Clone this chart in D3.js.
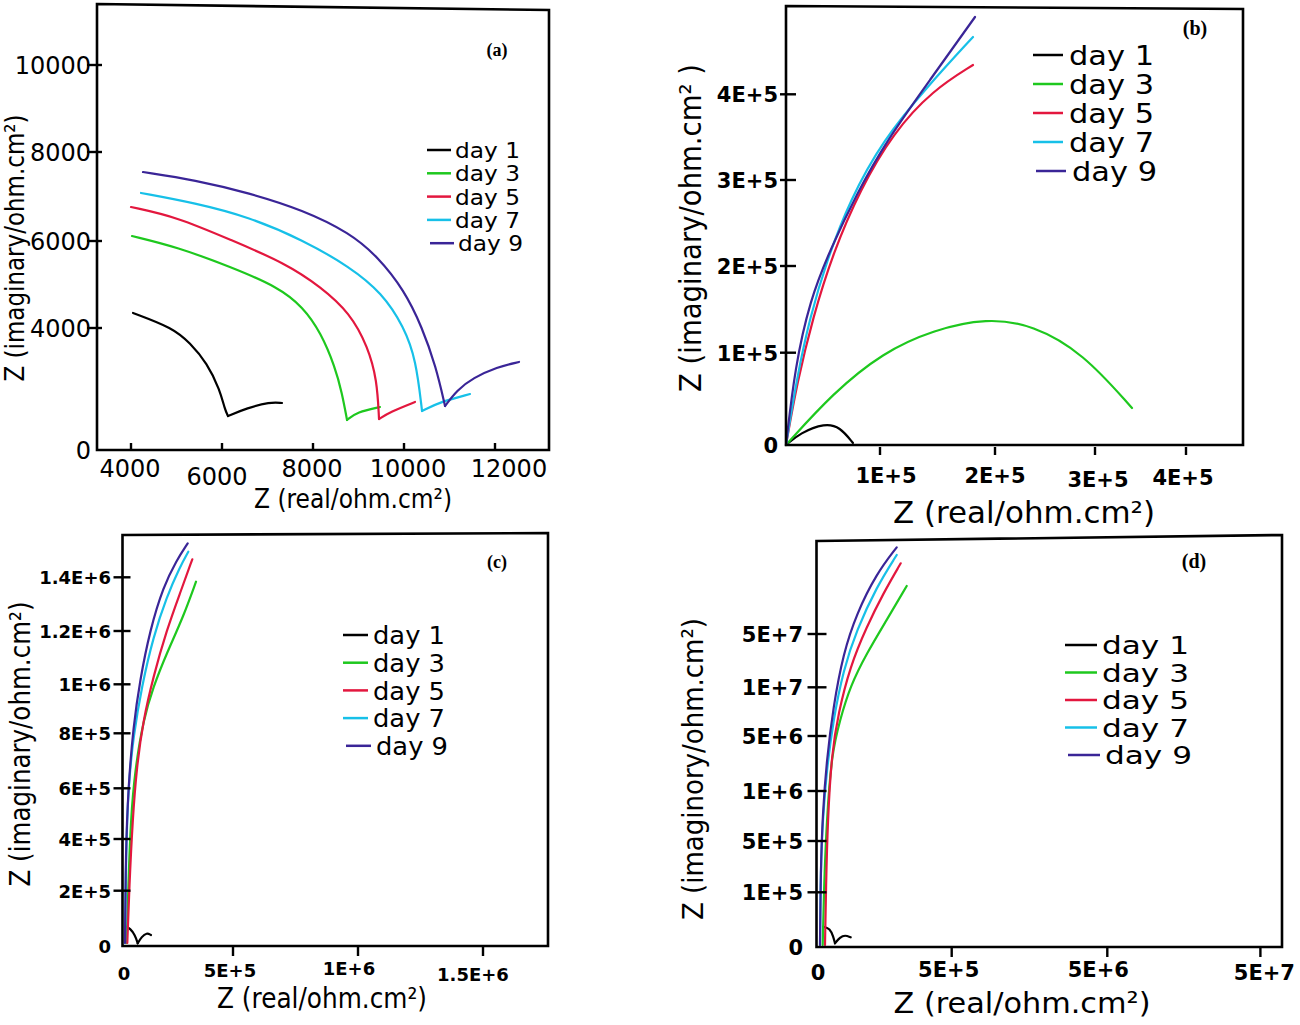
<!DOCTYPE html>
<html>
<head>
<meta charset="utf-8">
<script src="https://cdn.jsdelivr.net/npm/d3@7"></script>
<style>
  html, body { margin: 0; padding: 0; background: #fff; }
  svg { display: block; }
  text { font-family: "DejaVu Sans", sans-serif; fill: #000; }
</style>
</head>
<body>
<script>
// ---------------- DATA ----------------
const days = ["day 1", "day 3", "day 5", "day 7", "day 9"];
const dayColors = ["#000000", "#1ec81e", "#e3173e", "#17c0e8", "#3a2597"];

// Panel (a)
const aXTicks = [4000, 6000, 8000, 10000, 12000];
const aYTicks = [0, 4000, 6000, 8000, 10000];
const aDay1 = [[4044,4345],[4923,4000],[5297,3508],[5670,2853],[5956,1967],[6066,1312],[6132,1115],[6549,1377],[7055,1574],[7319,1541]];
const aDay3 = [[4022,6112],[5011,5862],[6198,5402],[7231,4943],[7780,4483],[8176,3836],[8484,2722],[8638,1869],[8748,984],[8967,1246],[9473,1410]];
const aDay5 = [[4000,6764],[5011,6539],[6198,6022],[7385,5494],[8176,4943],[8813,4345],[9209,3377],[9407,2295],[9451,1016],[9693,1246],[10242,1574]];
const aDay7 = [[4220,7079],[5407,6854],[6594,6539],[7780,6022],[8813,5402],[9517,4805],[10001,4023],[10264,2951],[10396,1279],[10792,1574],[11451,1836]];
const aDay9 = [[4264,7550],[5407,7371],[6594,7079],[7780,6697],[8813,6180],[9429,5632],[10001,4874],[10396,4023],[10704,2722],[10902,1443],[11166,1967],[11517,2361],[12044,2722],[12528,2886]];

// Panel (b)
const bXTicks = [100000, 200000, 300000, 400000];
const bXLabels = ["1E+5", "2E+5", "3E+5", "4E+5"];
const bYTicks = [0, 100000, 200000, 300000, 400000];
const bYLabels = ["0", "1E+5", "2E+5", "3E+5", "4E+5"];
const bDay1 = [[0,0],[14894,13000],[41489,23835],[57447,19502],[71277,2167]];
const bDay3 = [[0,0],[50000,56338],[102609,100300],[146087,126182],[193043,140023],[238000,131949],[288000,99700],[340659,40087]];
const bDay5 = [[0,0],[11702,67172],[28723,141176],[50000,215116],[78723,288372],[111304,354843],[146087,405017],[180870,434189]];
const bDay7 = [[0,0],[11702,73673],[25532,141176],[43617,206977],[68085,276744],[102609,346674],[140870,408518],[180870,466861]];
const bDay9 = [[0,0],[9574,84507],[25532,160784],[46809,218605],[75532,284884],[106087,346674],[143478,416686],[182609,490198]];

// Panel (c)
const cXTicks = [0, 500000, 1000000, 1500000];
const cXLabels = ["0", "5E+5", "1E+6", "1.5E+6"];
const cYTicks = [0, 200000, 400000, 600000, 800000, 1000000, 1200000, 1400000];
const cYLabels = ["0", "2E+5", "4E+5", "6E+5", "8E+5", "1E+6", "1.2E+6", "1.4E+6"];
const cDay1 = [[9174,69801],[27523,64014],[50459,39783],[62844,9766],[81193,33635],[104128,48101],[123853,39783]];
const cDay3 = [[12385,10850],[19725,215474],[30734,474951],[50459,666545],[88532,854286],[134404,990204],[195872,1116323],[272018,1253259],[330275,1383613]];
const cDay5 = [[15138,10850],[24312,215474],[39450,474951],[58257,678545],[88532,854286],[134404,1028518],[195872,1203724],[256881,1340410],[313303,1467039]];
const cDay7 = [[4587,10850],[9174,344681],[19725,605818],[42661,787636],[81193,990204],[134404,1178612],[195872,1327747],[256881,1439479],[294954,1495345]];
const cDay9 = [[4587,10850],[7798,344681],[19725,605818],[42661,826939],[73394,1016135],[119266,1203724],[180275,1364991],[241743,1464432],[292202,1526629]];

// Panel (d)
const dXTicks = [0, 500000, 5000000, 50000000];
const dXLabels = ["0", "5E+5", "5E+6", "5E+7"];
const dYTicks = [0, 100000, 500000, 1000000, 5000000, 10000000, 50000000];
const dYLabels = ["0", "1E+5", "5E+5", "1E+6", "5E+6", "1E+7", "5E+7"];
const dDay1 = [[19822,36765],[44880,33824],[57222,18382],[63580,6250],[82280,17279],[100980,21507],[122298,17279]];
const dDay3 = [[17577,3125],[22440,143665],[32538,710000],[51238,3741818],[82280,6642710],[119680,10450281],[182138,35515947],[256938,60506567],[331738,86022514]];
const dDay5 = [[26180,3125],[29920,143665],[36278,710000],[51238,3741818],[75922,7330595],[119680,25459662],[182138,55478424],[244222,80544090],[309298,103058161]];
const dDay7 = [[7480,3125],[10098,273879],[17577,710000],[32538,2527273],[57222,6642710],[94622,22983114],[144738,53001876],[219538,85497186],[294338,109287054]];
const dDay9 = [[7480,3125],[10098,273879],[17577,777000],[32538,3254545],[57222,8008214],[94622,35515947],[144738,65534709],[219538,95553471],[294338,115065666]];

// ---------------- DRAWING ----------------
const svg = d3.select("body").append("svg").attr("width", 1300).attr("height", 1025);

function drawPanel(p) {
  const g = svg.append("g");
  const x = d3.scaleLinear().domain(p.xDomain).range(p.xRange);
  const y = d3.scaleLinear().domain(p.yDomain).range(p.yRange);

  // curves (split at an interior minimum = cusp)
  const line = d3.line().x(d => x(d[0])).y(d => y(d[1])).curve(d3.curveBasis);
  p.series.forEach((s, i) => {
    const idx = d3.minIndex(s, d => d[1]);
    const parts = (idx > 0 && idx < s.length - 1) ? [s.slice(0, idx + 1), s.slice(idx)] : [s];
    parts.forEach(part => {
      g.append("path").attr("d", line(part)).attr("fill", "none")
        .attr("stroke", dayColors[i]).attr("stroke-width", 2.2)
        .attr("stroke-linejoin", "round").attr("stroke-linecap", "round");
    });
  });

  // frame
  g.append("path").attr("d", d3.line()(p.frame) + "Z").attr("fill", "none")
    .attr("stroke", "#000").attr("stroke-width", 2.6);

  const axX = p.frame[0][0];
  const axY = p.frame[3][1];

  // y ticks
  p.yTicks.forEach((v, i) => {
    if (v !== 0) {
      g.append("line").attr("x1", axX + p.yTickOut).attr("x2", axX + p.yTickIn)
        .attr("y1", y(v)).attr("y2", y(v)).attr("stroke", "#000").attr("stroke-width", 2.4);
    }
    g.append("text").attr("x", p.yLabelRight).attr("y", y(v) + p.yLabelDy)
      .attr("text-anchor", "end").attr("font-size", p.tickFont)
      .attr("font-weight", p.tickWeight).text(p.yLabels[i]);
  });
  // x ticks
  p.xTicks.forEach((v, i) => {
    if (v !== 0) {
      g.append("line").attr("x1", x(v)).attr("x2", x(v))
        .attr("y1", axY + p.xTickA).attr("y2", axY + p.xTickB)
        .attr("stroke", "#000").attr("stroke-width", 2.4);
    }
    g.append("text").attr("x", x(v) + p.xLabelDx[i])
      .attr("y", p.xLabelBase + p.xLabelDy[i])
      .attr("text-anchor", "middle").attr("font-size", p.tickFont)
      .attr("font-weight", p.tickWeight).text(p.xLabels[i]);
  });

  // axis titles
  g.append("text").attr("x", p.xTitle[0]).attr("y", p.xTitle[1]).attr("text-anchor", "middle")
    .attr("font-size", p.titleFont).attr("textLength", p.xTitle[2]).attr("lengthAdjust", "spacingAndGlyphs")
    .text("Z (real/ohm.cm²)");
  g.append("text").attr("transform", `translate(${p.yTitle[0]},${p.yTitle[1]}) rotate(-90)`)
    .attr("text-anchor", "middle").attr("font-size", p.titleFont)
    .attr("textLength", p.yTitle[2]).attr("lengthAdjust", "spacingAndGlyphs")
    .text(p.yTitleText);

  // legend
  days.forEach((d, i) => {
    const ry = p.legend.y0 + i * p.legend.dy;
    const shift = i === 4 ? 3 : 0;
    g.append("line").attr("x1", p.legend.x1 + shift).attr("x2", p.legend.x2 + shift)
      .attr("y1", ry).attr("y2", ry).attr("stroke", dayColors[i]).attr("stroke-width", 2.5);
    g.append("text").attr("x", p.legend.tx + shift).attr("y", ry + p.legend.font * 0.38)
      .attr("font-size", p.legend.font)
      .attr("textLength", p.legend.w).attr("lengthAdjust", "spacingAndGlyphs").text(d);
  });

  // panel tag
  g.append("text").attr("x", p.tag[0]).attr("y", p.tag[1]).attr("text-anchor", "middle")
    .style("font-family", "'Liberation Serif', serif").attr("font-size", p.tag[2])
    .attr("font-weight", "bold").text(p.tag[3]);
}

drawPanel({
  xDomain: [4000, 12000], xRange: [131, 495],
  yDomain: [0, 4000, 6000, 8000, 10000], yRange: [450, 328, 241, 152, 65],
  series: [aDay1, aDay3, aDay5, aDay7, aDay9],
  frame: [[97, 4], [549, 10], [549, 450], [97, 450]],
  yTicks: aYTicks, yLabels: aYTicks.map(String),
  yTickOut: -10, yTickIn: 5, yLabelRight: 91, yLabelDy: 9,
  xTicks: aXTicks, xLabels: aXTicks.map(String), xTickA: -7, xTickB: 0,
  xLabelBase: 477, xLabelDy: [0, 8, 0, 0, 0], xLabelDx: [-1, -5, -1, 4, 14],
  tickFont: 24, tickWeight: "normal",
  titleFont: 26, xTitle: [353, 508, 198], yTitle: [24, 248, 267],
  yTitleText: "Z (imaginary/ohm.cm²)",
  legend: { x1: 427, x2: 451, tx: 455, y0: 150, dy: 23.3, font: 21, w: 65 },
  tag: [497, 56, 18, "(a)"]
});

drawPanel({
  xDomain: [0, 100000, 200000, 300000, 400000], xRange: [786, 880, 995, 1095, 1186],
  yDomain: [0, 100000, 200000, 300000, 400000], yRange: [445, 352.7, 266, 180, 94.3],
  series: [bDay1, bDay3, bDay5, bDay7, bDay9],
  frame: [[786, 6], [1243, 9], [1243, 445], [786, 445]],
  yTicks: bYTicks, yLabels: bYLabels,
  yTickOut: -6, yTickIn: 10, yLabelRight: 778, yLabelDy: 8,
  xTicks: bXTicks, xLabels: bXLabels, xTickA: 2, xTickB: 10,
  xLabelBase: 483, xLabelDy: [0, 0, 4, 2], xLabelDx: [6, 0, 3, -3],
  tickFont: 21, tickWeight: "bold",
  titleFont: 30, xTitle: [1024, 523, 262], yTitle: [701, 228, 328],
  yTitleText: "Z (imaginary/ohm.cm² )",
  legend: { x1: 1033, x2: 1063, tx: 1069, y0: 55, dy: 29, font: 26, w: 85 },
  tag: [1195, 35, 20, "(b)"]
});

drawPanel({
  xDomain: [0, 500000, 1000000, 1500000], xRange: [124, 233, 358, 483],
  yDomain: [0, 200000, 400000, 600000, 800000, 1000000, 1200000, 1400000],
  yRange: [946, 890.7, 839, 788.3, 733.3, 684.3, 631, 577.3],
  series: [cDay1, cDay3, cDay5, cDay7, cDay9],
  frame: [[122.5, 535], [548, 533], [548, 946], [122.5, 946]],
  yTicks: cYTicks, yLabels: cYLabels,
  yTickOut: -9, yTickIn: 8, yLabelRight: 111, yLabelDy: 7,
  xTicks: cXTicks, xLabels: cXLabels, xTickA: 1, xTickB: 10,
  xLabelBase: 977, xLabelDy: [3, 0, -2, 4], xLabelDx: [0, -3, -9, -10],
  tickFont: 18, tickWeight: "bold",
  titleFont: 28, xTitle: [322, 1008, 210], yTitle: [30, 744, 285],
  yTitleText: "Z (imaginary/ohm.cm²)",
  legend: { x1: 343, x2: 368, tx: 373, y0: 635, dy: 27.7, font: 24, w: 72 },
  tag: [497, 568, 18, "(c)"]
});

drawPanel({
  xDomain: [0, 500000, 5000000, 50000000], xRange: [818, 951.7, 1107.3, 1260.4],
  yDomain: [0, 100000, 500000, 1000000, 5000000, 10000000, 50000000],
  yRange: [946.7, 892.3, 841, 791, 736, 687.3, 634],
  series: [dDay1, dDay3, dDay5, dDay7, dDay9],
  frame: [[816.5, 541], [1282, 535], [1282, 947], [816.5, 947]],
  yTicks: dYTicks, yLabels: dYLabels,
  yTickOut: -9, yTickIn: 10, yLabelRight: 803, yLabelDy: 8,
  xTicks: dXTicks, xLabels: dXLabels, xTickA: 1, xTickB: 10,
  xLabelBase: 977, xLabelDy: [3, 0, 0, 3], xLabelDx: [0, -3, -9, 4],
  tickFont: 21, tickWeight: "bold",
  titleFont: 29, xTitle: [1022, 1013, 257], yTitle: [703, 769, 302],
  yTitleText: "Z (imaginory/ohm.cm²)",
  legend: { x1: 1065, x2: 1097, tx: 1102, y0: 645, dy: 27.5, font: 24, w: 87 },
  tag: [1194, 568, 20, "(d)"]
});
</script>
</body>
</html>
